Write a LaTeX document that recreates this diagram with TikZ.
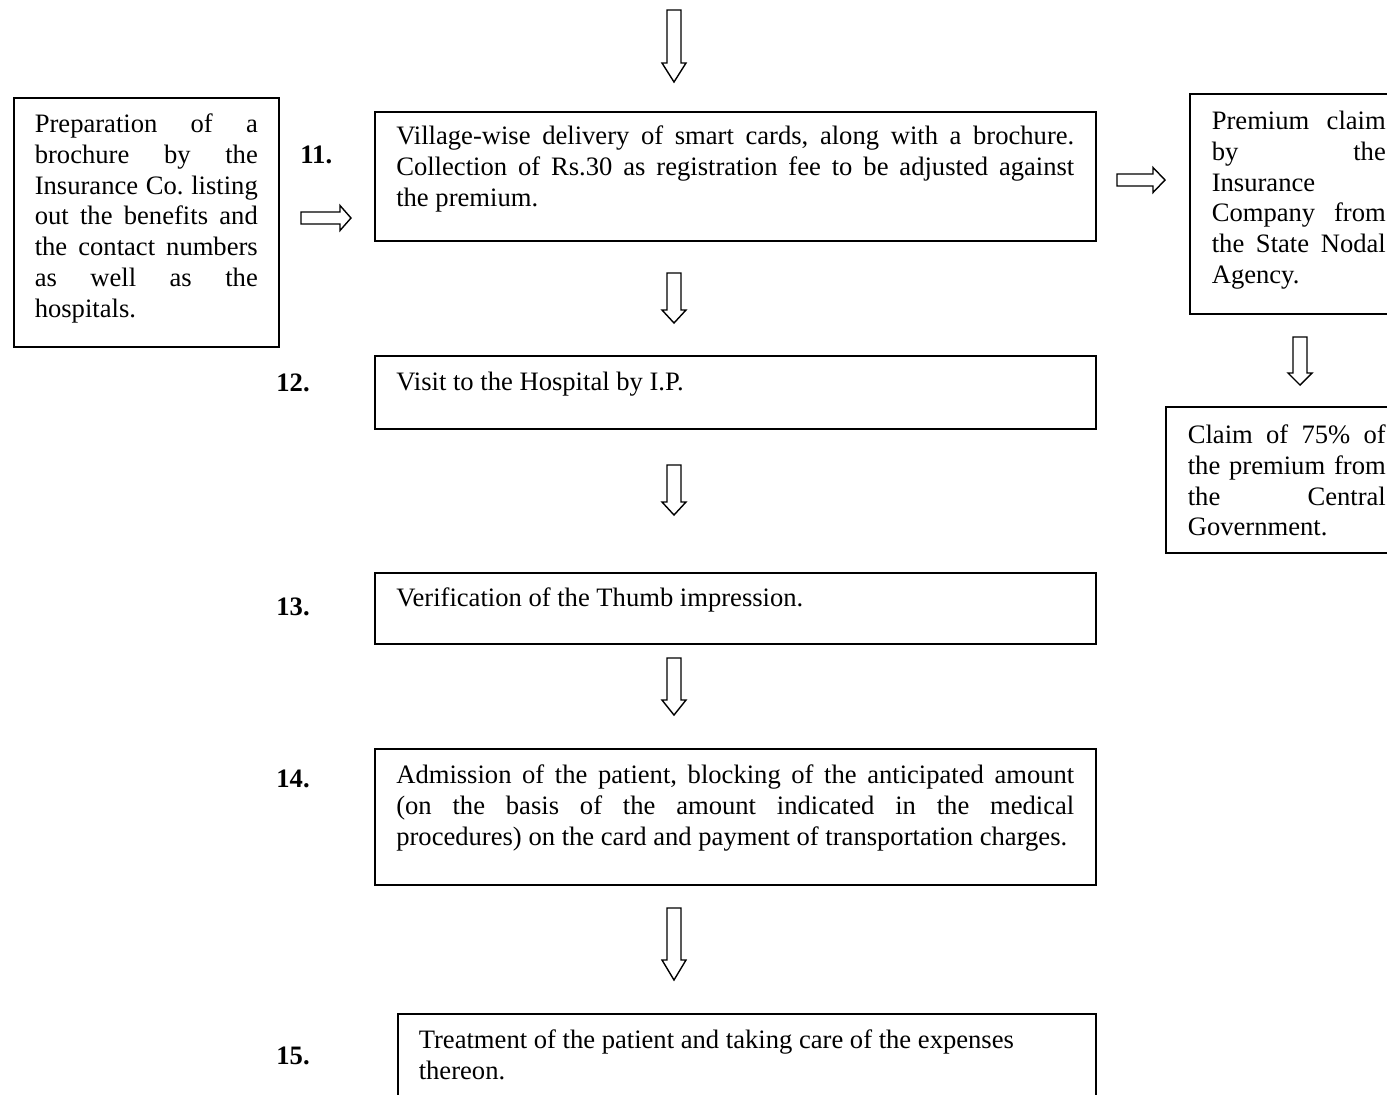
\documentclass[tikz,border=0pt]{standalone}
\usepackage{fontspec}
\setmainfont{Liberation Serif}
\frenchspacing
\tikzset{
  box/.style={draw, line width=0.8pt, anchor=north west, inner ysep=0pt},
  lbl/.style={font=\fontsize{13.3}{15.35}\selectfont\bfseries, anchor=west, inner sep=0pt},
  blockarrow/.style={draw, line width=0.7pt, line join=miter}
}
\newcommand\boxtext[4][17.5pt]{\parbox[c][#2][t]{#3}{\fontsize{13.3}{15.35}\selectfont\rule{0pt}{#1}#4}}
\newcommand\downblock[4]{\draw[blockarrow] ({#1-7},#2) -- ({#1+7},#2) -- ({#1+7},#3) -- ({#1+12},#3) -- (#1,#4) -- ({#1-12},#3) -- ({#1-7},#3) -- cycle;}
\newcommand\rightblock[4]{\draw[blockarrow] (#2,{#1-6}) -- (#3,{#1-6}) -- (#3,{#1-12.5}) -- (#4,#1) -- (#3,{#1+12.5}) -- (#3,{#1+6}) -- (#2,{#1+6}) -- cycle;}
\begin{document}
\begin{tikzpicture}[x=0.5pt,y=-0.5pt]
\useasboundingbox (0,0) rectangle (1387,1094);
\clip (0,0) rectangle (1387,1094);
\fill[white] (0,0) rectangle (1387,1094);

% left box
\node[box, inner xsep=10.5pt] (brochure) at (13,97) {\boxtext{124.5pt}{111.5pt}{Preparation of a\linebreak brochure by the\linebreak Insurance Co. listing\linebreak out the benefits and\linebreak the contact numbers\linebreak as well as the\linebreak hospitals.}};

% main column
\node[box, inner xsep=10.75pt] (b11) at (374,111) {\boxtext[16.5pt]{64.5pt}{339pt}{Village-wise delivery of smart cards, along with a brochure.\linebreak Collection of Rs.30 as registration fee to be adjusted against\linebreak the premium.}};
\node[box, inner xsep=10.75pt] (b12) at (374,355) {\boxtext{36.5pt}{339pt}{Visit to the Hospital by I.P.}};
\node[box, inner xsep=10.75pt] (b13) at (374,572) {\boxtext[17pt]{35.5pt}{339pt}{Verification of the Thumb impression.}};
\node[box, inner xsep=10.75pt] (b14) at (374,748) {\boxtext{68pt}{339pt}{Admission of the patient, blocking of the anticipated amount\linebreak (on the basis of the amount indicated in the medical\linebreak procedures) on the card and payment of transportation charges.}};
\node[box, inner xsep=10.5pt] (b15) at (397,1013) {\boxtext{55pt}{328pt}{\raggedright Treatment of the patient and taking care of the expenses\\ thereon.}};

% right column
\node[box, inner xsep=11pt] (premium) at (1189,93) {\boxtext[18pt]{110pt}{87pt}{Premium claim\linebreak by the\linebreak Insurance\linebreak Company from\linebreak the State Nodal\linebreak Agency.}};
\node[box, inner xsep=11pt] (claim) at (1165,406) {\boxtext[18.5pt]{73pt}{99pt}{Claim of 75\% of\linebreak the premium from\linebreak the Central\linebreak Government.}};

% labels
\node[lbl] (l11) at (300,155) {11.};
\node[lbl] (l12) at (276,383) {12.};
\node[lbl] (l13) at (276,607) {13.};
\node[lbl] (l14) at (276,779) {14.};
\node[lbl] (l15) at (276,1056) {15.};

% block arrows
\downblock{674}{10}{63}{82}
\downblock{674}{273}{310}{323}
\downblock{674}{465}{502}{515}
\downblock{674}{658}{700}{715}
\downblock{674}{908}{960}{980}
\downblock{1300}{337}{373}{385}
\rightblock{218}{301}{340}{351}
\rightblock{180}{1117}{1153}{1165}
\end{tikzpicture}
\end{document}
